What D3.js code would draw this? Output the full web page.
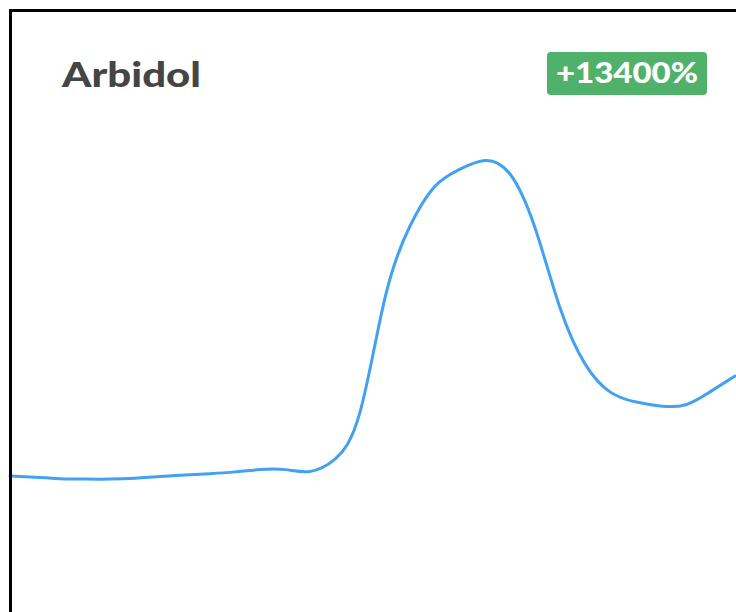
<!DOCTYPE html>
<html><head><meta charset="utf-8">
<script src="https://cdn.jsdelivr.net/npm/d3@7"></script>
<style>html,body{margin:0;padding:0;background:#fff;overflow:hidden}svg{display:block}</style>
</head><body>
<svg id="c" width="736" height="612"></svg>
<script>
const title = "Arbidol";
const badgeLabel = "+13400%";
// relative interest, evenly spaced in time
const weeks = d3.range(30);
const interest = [30.1,29.8,29.5,29.4,29.4,29.6,30.0,30.3,30.6,31.0,31.5,31.5,31.1,33.8,44.2,
                  69.5,85.4,94.2,98.0,99.9,96.9,85.0,67.3,54.9,48.7,46.5,45.6,45.8,48.7,52.2];

const svg = d3.select("#c");
const x = d3.scaleLinear().domain([0, 29]).range([10, 735]);
const y = d3.scaleLinear().domain([0, 100]).range([612, 160]);

svg.append("path")
  .datum(weeks.map((w,i)=>[w, interest[i]]))
  .attr("fill","none")
  .attr("stroke","#42a1f0")
  .attr("stroke-width",3)
  .attr("stroke-linecap","round")
  .attr("d", d3.line().x(d=>x(d[0])).y(d=>y(d[1])).curve(d3.curveNatural));

// card border (extends beyond viewport on right and bottom)
svg.append("rect").attr("x",10.5).attr("y",10.5).attr("width",800).attr("height",700)
  .attr("fill","none").attr("stroke","#000").attr("stroke-width",3);

svg.append("text").attr("x",62).attr("y",87)
  .attr("font-family","Lato, 'Open Sans', sans-serif").attr("font-weight",900)
  .attr("font-size",35).attr("fill","#454545")
  .attr("textLength",139).attr("lengthAdjust","spacingAndGlyphs")
  .text(title);

const bg = svg.append("g");
bg.append("rect").attr("x",547).attr("y",52).attr("width",160).attr("height",43)
  .attr("rx",4).attr("fill","#50b26a");
bg.append("text").attr("x",556).attr("y",83)
  .attr("font-family","Lato, 'Open Sans', sans-serif").attr("font-weight",900)
  .attr("font-size",28).attr("fill","#fff")
  .attr("textLength",142).attr("lengthAdjust","spacingAndGlyphs")
  .text(badgeLabel);
</script>
</body></html>
